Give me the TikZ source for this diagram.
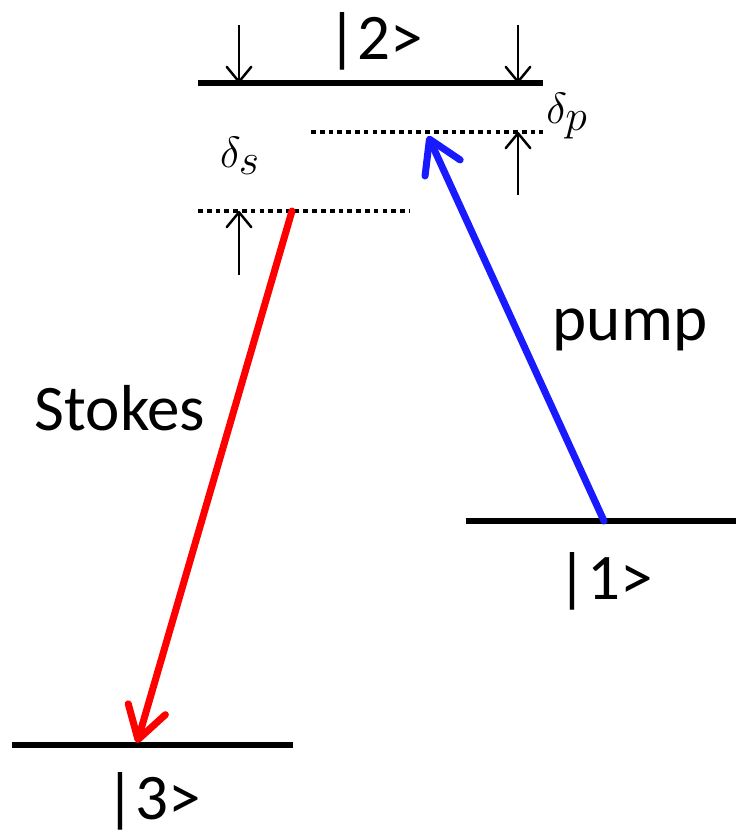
\documentclass[tikz,border=0pt]{standalone}
\usepackage{fontspec}
\setmainfont{Carlito}
\usepackage{tikz}
\usetikzlibrary{positioning,arrows.meta}
\definecolor{pumpblue}{RGB}{26,26,255}

\begin{document}
\begin{tikzpicture}[
  every node/.style={font=\fontsize{37}{44}\selectfont},
  level/.style={line width=2.9pt},
  virtual/.style={line width=2.7pt, dash pattern=on 2.7pt off 2.3pt},
  detune/.style={line width=1.4pt, -{Straight Barb[length=8.5pt,width=14pt,round]}},
  beam/.style={line width=4pt, line cap=round, -{Straight Barb[length=18pt,width=22pt,round]}}
]
\useasboundingbox (0,0) rectangle (14.72,-16.66);
% energy levels
\coordinate (l2a) at (3.96,-1.66);  \coordinate (l2b) at (10.86,-1.66);
\coordinate (vpa) at (6.22,-2.64);  \coordinate (vpb) at (10.86,-2.64);
\coordinate (vsa) at (3.96,-4.22);  \coordinate (vsb) at (8.20,-4.22);
\coordinate (l1a) at (9.32,-10.42); \coordinate (l1b) at (14.72,-10.42);
\coordinate (l3a) at (0.24,-14.90); \coordinate (l3b) at (5.86,-14.90);
\draw[level] (l2a) -- (l2b);
\draw[level] (l1a) -- (l1b);
\draw[level] (l3a) -- (l3b);
\draw[virtual] (vpa) -- (vpb);
\draw[virtual] (vsa) -- (vsb);
\node (k2) at (7.50,-0.82) {|2>};
\node (k1) at (12.10,-11.62) {|1>};
\node (k3) at (3.06,-16.02) {|3>};
% detunings
\coordinate (dsTop) at (4.78,-0.50);   \coordinate (dsL2) at (4.78,-1.66);
\coordinate (dsBot) at (4.78,-5.50);   \coordinate (dsV) at (4.78,-4.22);
\coordinate (dpTop) at (10.36,-0.50);  \coordinate (dpL2) at (10.36,-1.66);
\coordinate (dpBot) at (10.36,-3.90);  \coordinate (dpV) at (10.36,-2.64);
\draw[detune] (dsTop) -- (dsL2);
\draw[detune] (dpTop) -- (dpL2);
\draw[detune] (dsBot) -- (dsV);
\draw[detune] (dpBot) -- (dpV);
\node[font=\fontsize{33}{38}\selectfont] (ds) at (4.80,-3.12) {$\delta_s$};
\node[font=\fontsize{33}{38}\selectfont] (dp) at (11.34,-2.32) {$\delta_p$};
% laser fields
\coordinate (pFrom) at (12.08,-10.42); \coordinate (pTo) at (8.56,-2.72);
\coordinate (sFrom) at (5.84,-4.22);   \coordinate (sTo) at (2.74,-14.86);
\draw[beam, pumpblue] (pFrom) -- (pTo);
\draw[beam, red] (sFrom) -- (sTo);
\node (pump) at (12.60,-6.60) {pump};
\node (stokes) at (2.40,-8.16) {Stokes};
\end{tikzpicture}
\end{document}
